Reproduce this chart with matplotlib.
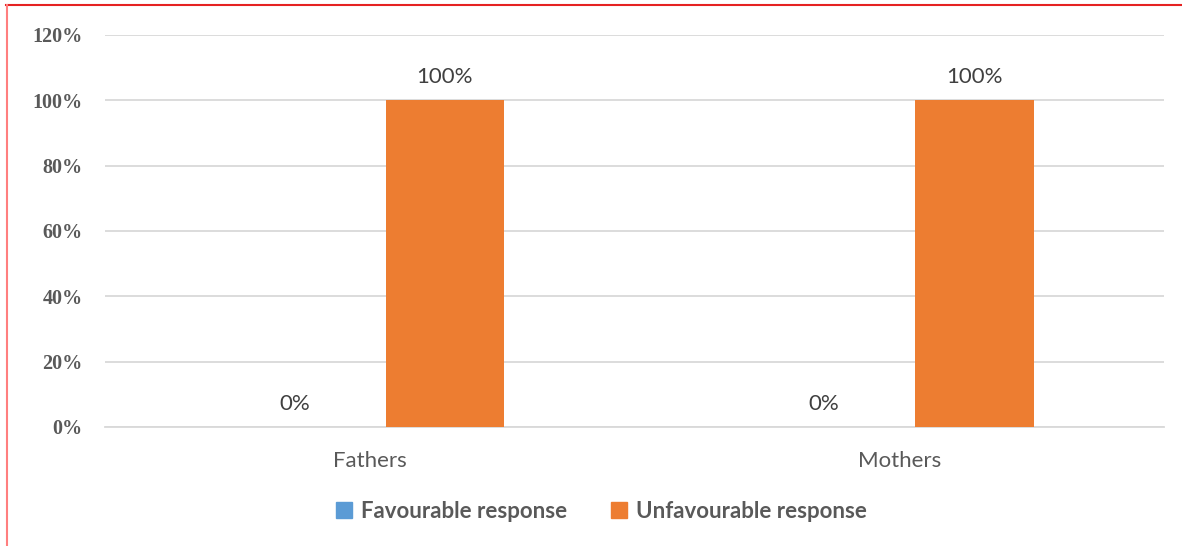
import numpy as np
import matplotlib.pyplot as plt
from matplotlib.patches import Patch
from matplotlib.lines import Line2D

categories = ['Fathers', 'Mothers']
favourable = [0, 0]
unfavourable = [100, 100]
yticks = [0, 20, 40, 60, 80, 100, 120]

blue = '#5b9bd5'
orange = '#ed7d31'
grey = '#595959'

fig = plt.figure(figsize=(11.82, 5.46), dpi=100)
ax = fig.add_axes([0.0888, 0.218, 0.896, 0.718])

x = np.arange(len(categories))
w = 0.223
off = 0.142
b1 = ax.bar(x - off, favourable, w, color=blue, zorder=3)
b2 = ax.bar(x + off, unfavourable, w, color=orange, zorder=3)

for bars, vals in [(b1, favourable), (b2, unfavourable)]:
    for b, v in zip(bars, vals):
        ax.text(b.get_x() + b.get_width() / 2, v + 4, f'{v}%', ha='center', va='bottom',
                fontsize=16, color='#404040', family='Lato')

ax.set_xlim(-0.5, 1.5)
ax.set_ylim(0, 120)
ax.set_yticks(yticks)
ax.set_yticklabels([f'{t}%' for t in yticks], family='Liberation Serif', fontweight='bold',
                   fontsize=14.5, color=grey)
ax.set_xticks(x)
ax.set_xticklabels(categories, family='Lato', fontsize=16, color=grey)
ax.tick_params(axis='both', length=0)
ax.tick_params(axis='y', pad=16)
ax.tick_params(axis='x', pad=17)
ax.grid(axis='y', color='#d9d9d9', linewidth=1.3, zorder=0)
for s in ['top', 'right', 'left']:
    ax.spines[s].set_visible(False)
ax.spines['bottom'].set_color('#d9d9d9')
ax.spines['bottom'].set_linewidth(1.3)

handles = [Patch(color=blue), Patch(color=orange)]
leg = fig.legend(handles, ['Favourable response', 'Unfavourable response'], loc='center',
                 bbox_to_anchor=(0.509, 0.064), ncol=2, frameon=False, handlelength=0.7,
                 handleheight=0.7, handletextpad=0.4, columnspacing=2.0,
                 prop={'family': 'Lato', 'weight': 'bold', 'size': 16})
for t in leg.get_texts():
    t.set_color(grey)

# red frame lines on top and left
fig.add_artist(Line2D([6 / 1182, 1], [1 - 5 / 546, 1 - 5 / 546], color='#e52222', lw=1.5))
fig.add_artist(Line2D([6.5 / 1182, 6.5 / 1182], [0, 1 - 5 / 546], color='#ff7f7f', lw=1.5))

fig.savefig('out.png', dpi=100)
